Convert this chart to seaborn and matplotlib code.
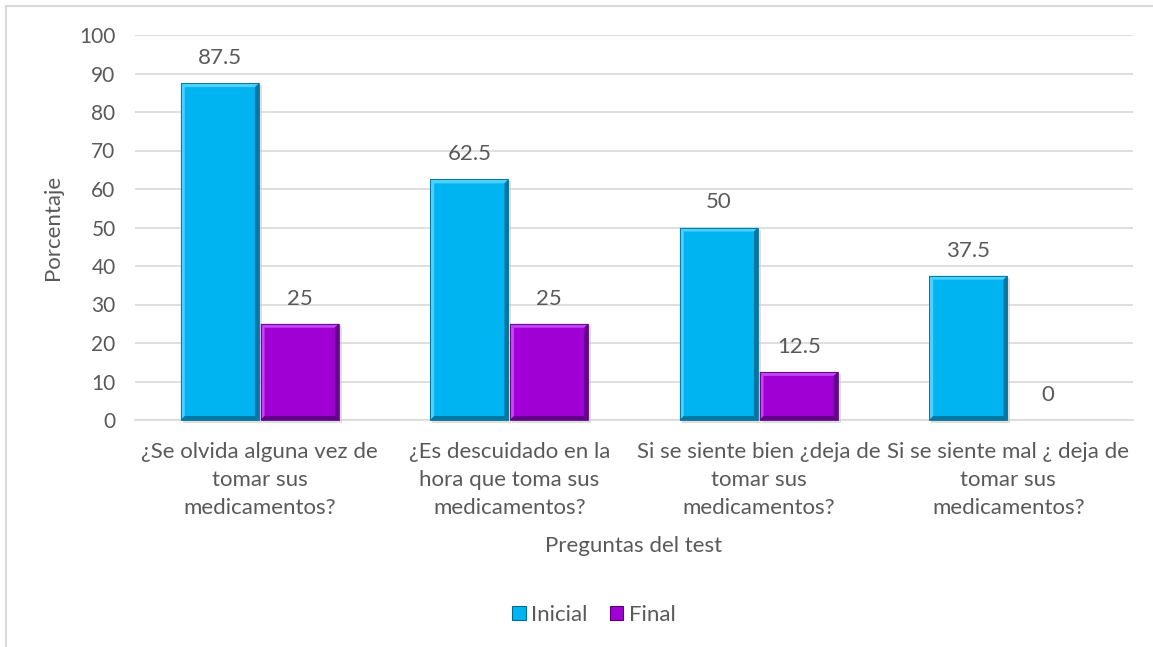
import matplotlib
matplotlib.use("Agg")
import matplotlib.pyplot as plt
from matplotlib.patches import Polygon
from matplotlib.lines import Line2D
from matplotlib.transforms import IdentityTransform
import seaborn as sns
import pandas as pd

# Data
preguntas = [
    "¿Se olvida alguna vez de\ntomar sus\nmedicamentos?",
    "¿Es descuidado en la\nhora que toma sus\nmedicamentos?",
    "Si se siente bien ¿deja de\ntomar sus\nmedicamentos?",
    "Si se siente mal ¿ deja de\ntomar sus\nmedicamentos?",
]
inicial = [87.5, 62.5, 50, 37.5]
final = [25, 25, 12.5, 0]
series = ["Inicial", "Final"]
y_ticks = [0, 10, 20, 30, 40, 50, 60, 70, 80, 90, 100]

colors = {"Inicial": "#00B4F2", "Final": "#A000D4"}
light = {"Inicial": "#62D8FF", "Final": "#CF55FF"}
dark = {"Inicial": "#006A90", "Final": "#560078"}
text_color = "#595959"
grid_color = "#D9D9D9"
fs = 16

df = pd.DataFrame({
    "Pregunta": preguntas * 2,
    "Serie": ["Inicial"] * 4 + ["Final"] * 4,
    "Valor": inicial + final,
})

sns.set_theme(style="white")
plt.rcParams["font.family"] = ["Lato", "DejaVu Sans"]

fig = plt.figure(figsize=(11.53, 6.47), dpi=100)
ax = fig.add_axes([135 / 1153, 1 - 420 / 647, (1133 - 135) / 1153, (420 - 35) / 647])

sns.barplot(data=df, x="Pregunta", y="Valor", hue="Serie", hue_order=series,
            palette=colors, saturation=1, width=0.64, gap=0.02, ax=ax, legend=False,
            edgecolor="none", linewidth=0, zorder=3)

ax.set_ylim(0, 100)
ax.set_xlim(-0.5, 3.5)
ax.set_yticks(y_ticks)
ax.yaxis.grid(True, color=grid_color, linewidth=1.2, zorder=0)
ax.set_axisbelow(True)
for s in ["top", "right", "left"]:
    ax.spines[s].set_visible(False)
ax.spines["bottom"].set_color(grid_color)
ax.spines["bottom"].set_linewidth(1.2)
ax.tick_params(axis="both", length=0, labelsize=fs, colors=text_color)
ax.tick_params(axis="y", labelsize=15, pad=14)
ax.tick_params(axis="x", pad=16)
for lbl in ax.get_xticklabels():
    lbl.set_linespacing(1.5)
ax.set_xlabel("Preguntas del test", fontsize=fs, color=text_color, labelpad=13)
ax.set_ylabel("Porcentaje", fontsize=fs, color=text_color, labelpad=12)

# Bevel shading and value labels for each bar
fig.canvas.draw()
bw = 4
for container, name in zip(ax.containers, series):
    for patch, val in zip(container.patches, container.datavalues):
        ax.annotate(f"{val:g}", (patch.get_x() + patch.get_width() / 2, val),
                    xytext=(0, 18), textcoords="offset points", ha="center",
                    va="center", fontsize=fs, color=text_color)
        if patch.get_height() <= 0:
            continue
        bb = patch.get_window_extent()
        x0, y0, x1, y1 = bb.x0, bb.y0, bb.x1, bb.y1
        tr = IdentityTransform()
        # soft drop shadow
        fig.patches.append(Polygon([(x0 + 2, y0 - 3), (x1 + 3, y0 - 3), (x1 + 3, y1 - 2), (x1, y1 - 2), (x1, y0), (x0 + 2, y0)],
                                   closed=True, transform=tr, facecolor="#C8C8C8", alpha=0.6,
                                   edgecolor="none", zorder=2))
        polys = [
            ([(x0, y0), (x0 + bw, y0 + bw), (x0 + bw, y1 - bw), (x0, y1)], light[name]),
            ([(x0, y1), (x0 + bw, y1 - bw), (x1 - bw, y1 - bw), (x1, y1)], light[name]),
            ([(x1, y1), (x1 - bw, y1 - bw), (x1 - bw, y0 + bw), (x1, y0)], dark[name]),
            ([(x0, y0), (x0 + bw, y0 + bw), (x1 - bw, y0 + bw), (x1, y0)], dark[name]),
        ]
        for pts, c in polys:
            fig.patches.append(Polygon(pts, closed=True, transform=tr, facecolor=c,
                                       edgecolor="none", alpha=0.8, zorder=5))
        fig.patches.append(Polygon([(x0, y0), (x1, y0), (x1, y1), (x0, y1)], closed=True,
                                   transform=tr, facecolor="none", edgecolor=dark[name],
                                   linewidth=0.6, zorder=6))

# Legend
handles = [plt.Rectangle((0, 0), 1, 1, facecolor=colors[s], edgecolor=dark[s], linewidth=0.8)
           for s in series]
fig.legend(handles, series, loc="center", bbox_to_anchor=(594 / 1153, 1 - 615 / 647),
           ncol=2, frameon=False, fontsize=fs, handlelength=0.6, handleheight=0.6,
           handletextpad=0.25, columnspacing=1.0, labelcolor=text_color)

# Chart frame
fig.add_artist(Line2D([5.5 / 1153, 5.5 / 1153], [0, 1 - 5.5 / 647], color=grid_color, linewidth=1.5))
fig.add_artist(Line2D([5.5 / 1153, 1], [1 - 5.5 / 647, 1 - 5.5 / 647], color=grid_color, linewidth=1.5))

fig.savefig("out.png", dpi=100, facecolor="white")
